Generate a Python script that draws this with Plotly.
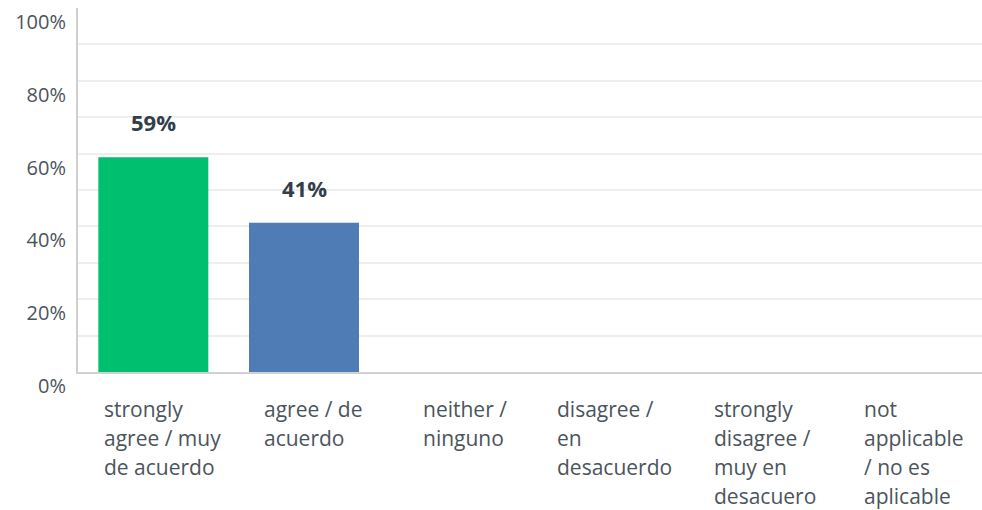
import plotly.graph_objects as go

categories = [
    "strongly<br>agree / muy<br>de acuerdo",
    "agree / de<br>acuerdo",
    "neither /<br>ninguno",
    "disagree /<br>en<br>desacuerdo",
    "strongly<br>disagree /<br>muy en<br>desacuero",
    "not<br>applicable<br>/ no es<br>aplicable",
]
values = [59, 41, 0, 0, 0, 0]
colors = ["#00bf6f", "#507cb6", "#507cb6", "#507cb6", "#507cb6", "#507cb6"]
y_ticks = [0, 20, 40, 60, 80, 100]
y_tick_labels = ["0%", "20%", "40%", "60%", "80%", "100%"]

FONT = "Open Sans"
TEXT = "#333e48"
TICK = "#4b545c"
LABEL_SIZE = 21


def est_width(s, size):
    """Rough text width estimate, used to centre each left-aligned label block."""
    w = 0.0
    for ch in s:
        if ch in "iltfjr /":
            w += 0.3
        elif ch in "mw":
            w += 0.85
        else:
            w += 0.55
    return w * size


fig = go.Figure()
fig.add_trace(go.Bar(
    x=categories, y=values, marker=dict(color=colors, line=dict(width=0)),
    hoverinfo="skip", showlegend=False,
))

annotations = []
for c, v in zip(categories, values):
    if v > 0:
        annotations.append(dict(
            x=c, y=v, xref="x", yref="y", text=f"<b>{v}%</b>", showarrow=False,
            yanchor="middle", yshift=35, font=dict(family=FONT, size=22, color=TEXT),
        ))
    lines = c.split("<br>")
    block_w = max(est_width(s, LABEL_SIZE) for s in lines)
    for i, ln in enumerate(lines):
        annotations.append(dict(
            x=c, y=0, xref="x", yref="y", text=ln, showarrow=False,
            xanchor="left", yanchor="middle", yshift=-37 - 29 * i,
            xshift=5 - block_w / 2, align="left",
            font=dict(family=FONT, size=LABEL_SIZE, color=TICK),
        ))

fig.update_layout(
    width=982, height=510,
    margin=dict(l=78, r=0, t=8, b=138),
    paper_bgcolor="white", plot_bgcolor="white",
    bargap=0.27,
    annotations=annotations,
    xaxis=dict(
        showticklabels=False, showgrid=False, ticks="",
        showline=True, linecolor="#d0d0d0", linewidth=2,
    ),
    yaxis=dict(
        range=[0, 100], tickvals=y_ticks, ticktext=y_tick_labels,
        ticklabelposition="outside bottom", ticks="", ticklabelstandoff=6,
        tickfont=dict(family=FONT, size=20, color=TICK),
        showgrid=True, gridcolor="#eeeeee", gridwidth=2,
        minor=dict(dtick=10, showgrid=True, gridcolor="#eeeeee", gridwidth=2),
        showline=True, linecolor="#d0d0d0", linewidth=2, zeroline=False,
    ),
)

fig.write_html(
    "out.html",
    config={"responsive": False, "displayModeBar": False},
    post_script="document.body.style.margin='0';document.body.style.overflow='hidden';",
)
